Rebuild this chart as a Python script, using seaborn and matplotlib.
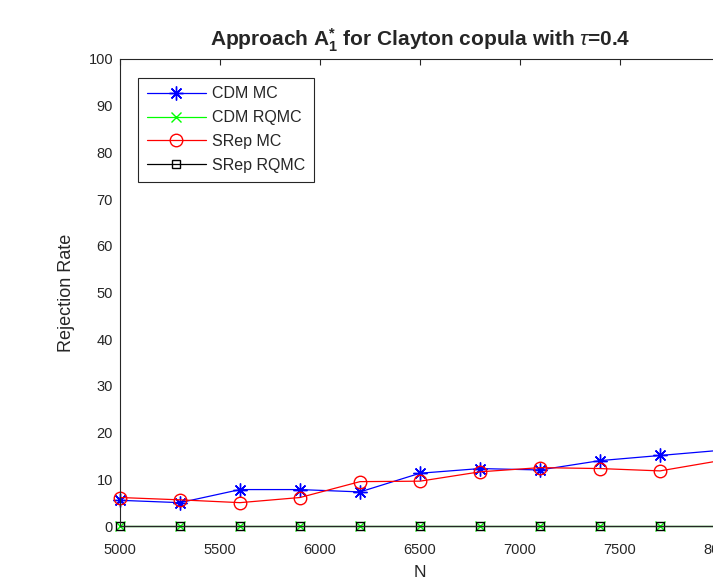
import matplotlib
matplotlib.use("Agg")
import matplotlib.pyplot as plt
import seaborn as sns
import numpy as np
import pandas as pd

N = [5000, 5300, 5600, 5900, 6200, 6500, 6800, 7100, 7400, 7700, 8000]
cdm_mc = [5.5, 5.0, 7.8, 7.8, 7.3, 11.3, 12.3, 12.0, 14.0, 15.1, 16.2]
cdm_rqmc = [0, 0, 0, 0, 0, 0, 0, 0, 0, 0, 0]
srep_mc = [6.1, 5.6, 5.0, 6.1, 9.5, 9.6, 11.6, 12.5, 12.3, 11.8, 14.0]
srep_rqmc = [0, 0, 0, 0, 0, 0, 0, 0, 0, 0, 0]
labels = ["CDM MC", "CDM RQMC", "SRep MC", "SRep RQMC"]
xticks = [5000, 5500, 6000, 6500, 7000, 7500, 8000]
yticks = list(range(0, 101, 10))

sns.set_style("white")
plt.rcParams["font.family"] = ["Liberation Sans", "DejaVu Sans"]
plt.rcParams["mathtext.fontset"] = "custom"
plt.rcParams["mathtext.rm"] = "Liberation Sans"
plt.rcParams["mathtext.it"] = "Liberation Sans:italic"
plt.rcParams["mathtext.bf"] = "Liberation Sans:bold"

fig = plt.figure(figsize=(7.13, 5.8), dpi=100)
ax = fig.add_axes([120 / 713, 54 / 580, 600 / 713, 467 / 580])

asterisk = (8, 2, 0)
series = [
    (cdm_mc, labels[0], "#0000ff", asterisk, dict(markersize=10, markeredgewidth=1.0)),
    (cdm_rqmc, labels[1], "#00ff00", "x", dict(markersize=7, markeredgewidth=1.0)),
    (srep_mc, labels[2], "#ff0000", "o", dict(markersize=9, markerfacecolor="none", markeredgewidth=1.0)),
    (srep_rqmc, labels[3], "#000000", "s", dict(markersize=6, markerfacecolor="none", markeredgewidth=1.0)),
]
for vals, lab, col, mk, kw in series:
    df = pd.DataFrame({"N": N, "Rejection Rate": vals})
    sns.lineplot(data=df, x="N", y="Rejection Rate", ax=ax, color=col, marker=mk,
                 label=lab, linewidth=0.9, markeredgecolor=col, clip_on=False, **kw)

ax.set_xlim(5000, 8000)
ax.set_ylim(0, 100)
ax.set_xticks(xticks)
ax.set_yticks(yticks)
ax.tick_params(direction="in", top=True, right=True, length=4, width=0.8,
               labelsize=10.5, colors="#262626")
ax.tick_params(axis="x", pad=12)
ax.tick_params(axis="y", pad=5)
for s in ax.spines.values():
    s.set_color("#262626")
    s.set_linewidth(0.8)
ax.set_xlabel("N", fontsize=12.5, color="#262626", labelpad=6)
ax.set_ylabel("Rejection Rate", fontsize=13, color="#262626", labelpad=10)
ax.set_title(r"Approach A$_\mathbf{1}^\mathbf{*}$ for Clayton copula with $\mathit{\tau}$=0.4",
             fontsize=15, fontweight="bold", pad=9)

leg = ax.legend(loc="upper left", bbox_to_anchor=(0.03, 0.96), borderaxespad=0,
                fontsize=11.5, frameon=True, fancybox=False, edgecolor="#262626",
                handlelength=3.7, borderpad=0.55, labelspacing=0.55, handletextpad=0.4,
                framealpha=1)
leg.get_frame().set_linewidth(0.8)

fig.savefig("out.png", dpi=100)
